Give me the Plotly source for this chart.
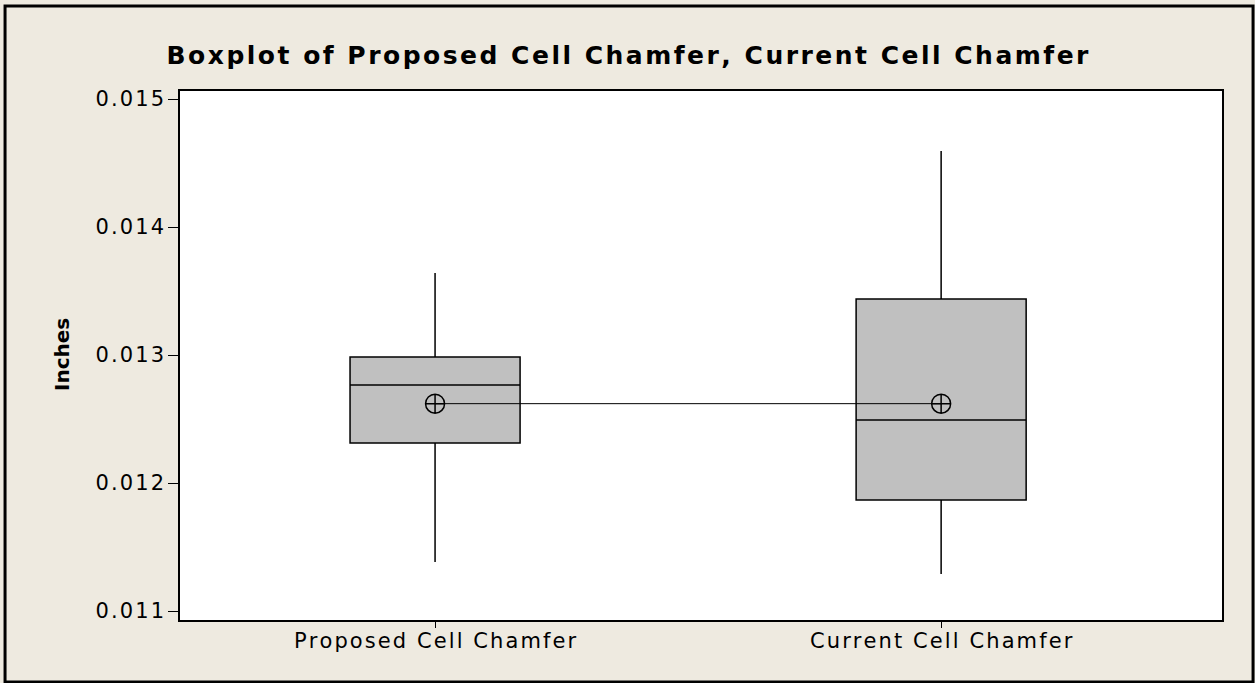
import plotly.graph_objects as go

# five-number summaries (inches)
categories = ["Proposed Cell Chamfer", "Current Cell Chamfer"]
lower = [0.011383, 0.011289]
q1 = [0.012313, 0.011867]
median = [0.012766, 0.012492]
q3 = [0.012984, 0.013438]
upper = [0.013641, 0.014594]
means = [0.012620, 0.012620]

y_ticks = [0.011, 0.012, 0.013, 0.014, 0.015]
y_ticktext = ["0.011", "0.012", "0.013", "0.014", "0.015"]

FONT = "DejaVu Sans"
BG = "#EEEAE0"
HAIR = "\u200a"


def spaced(s):
    # Minitab draws its text with wide letter spacing
    return HAIR.join(s)


fig = go.Figure()

fig.add_trace(go.Box(
    x=categories,
    q1=q1, median=median, q3=q3,
    lowerfence=lower, upperfence=upper,
    fillcolor="#C0C0C0",
    line=dict(color="black", width=1.5),
    whiskerwidth=0,
    width=0.336,
    boxpoints=False,
    hoverinfo="skip",
    showlegend=False,
))

# mean symbols joined by a line
fig.add_trace(go.Scatter(
    x=categories, y=means,
    mode="lines+markers",
    line=dict(color="black", width=1),
    marker=dict(symbol="circle-cross-open", size=19, color="black",
                line=dict(color="black", width=1.5)),
    showlegend=False,
    hoverinfo="skip",
))

fig.update_layout(
    width=1255, height=683,
    paper_bgcolor=BG,
    plot_bgcolor="white",
    margin=dict(l=180, r=33, t=91, b=63),
    font=dict(family=FONT, color="black", size=21),
    title=dict(
        text="<b>" + spaced("Boxplot of Proposed Cell Chamfer, Current Cell Chamfer") + "</b>",
        x=0.5, xref="container", xanchor="center",
        y=1 - 55 / 683, yanchor="middle",
        font=dict(family=FONT, size=25, color="black"),
    ),
    showlegend=False,
)

fig.update_xaxes(
    type="category",
    range=[-0.504, 1.555],
    tickvals=categories, ticktext=[spaced(c) for c in categories],
    showgrid=False, zeroline=False,
    showline=True, linecolor="black", linewidth=1.5, mirror=True,
    ticks="outside", ticklen=6, tickcolor="black", tickwidth=1,
    ticklabelstandoff=-5,
    tickfont=dict(family=FONT, size=21, color="black"),
)

fig.update_yaxes(
    range=[0.01093, 0.0150625],
    tickvals=y_ticks, ticktext=[spaced(t) for t in y_ticktext],
    showgrid=False, zeroline=False,
    showline=True, linecolor="black", linewidth=1.5, mirror=True,
    ticks="outside", ticklen=10, tickcolor="black", tickwidth=1,
    tickfont=dict(family=FONT, size=21, color="black"),
)

fig.add_annotation(
    text="<b>Inches</b>", textangle=-90,
    xref="paper", yref="paper", x=-0.1132, y=0.501,
    xanchor="center", yanchor="middle", showarrow=False,
    font=dict(family=FONT, size=20, color="black"),
)

# outer frame around the whole graph
fig.add_shape(
    type="rect", xref="paper", yref="paper",
    x0=-0.1679, x1=1.0298, y0=-0.1172, y1=1.1607,
    line=dict(color="black", width=3), fillcolor="rgba(0,0,0,0)",
)

fig.write_html(
    "out.html",
    config={"displayModeBar": False},
    post_script="document.body.style.margin='0';document.body.style.overflow='hidden';",
)
